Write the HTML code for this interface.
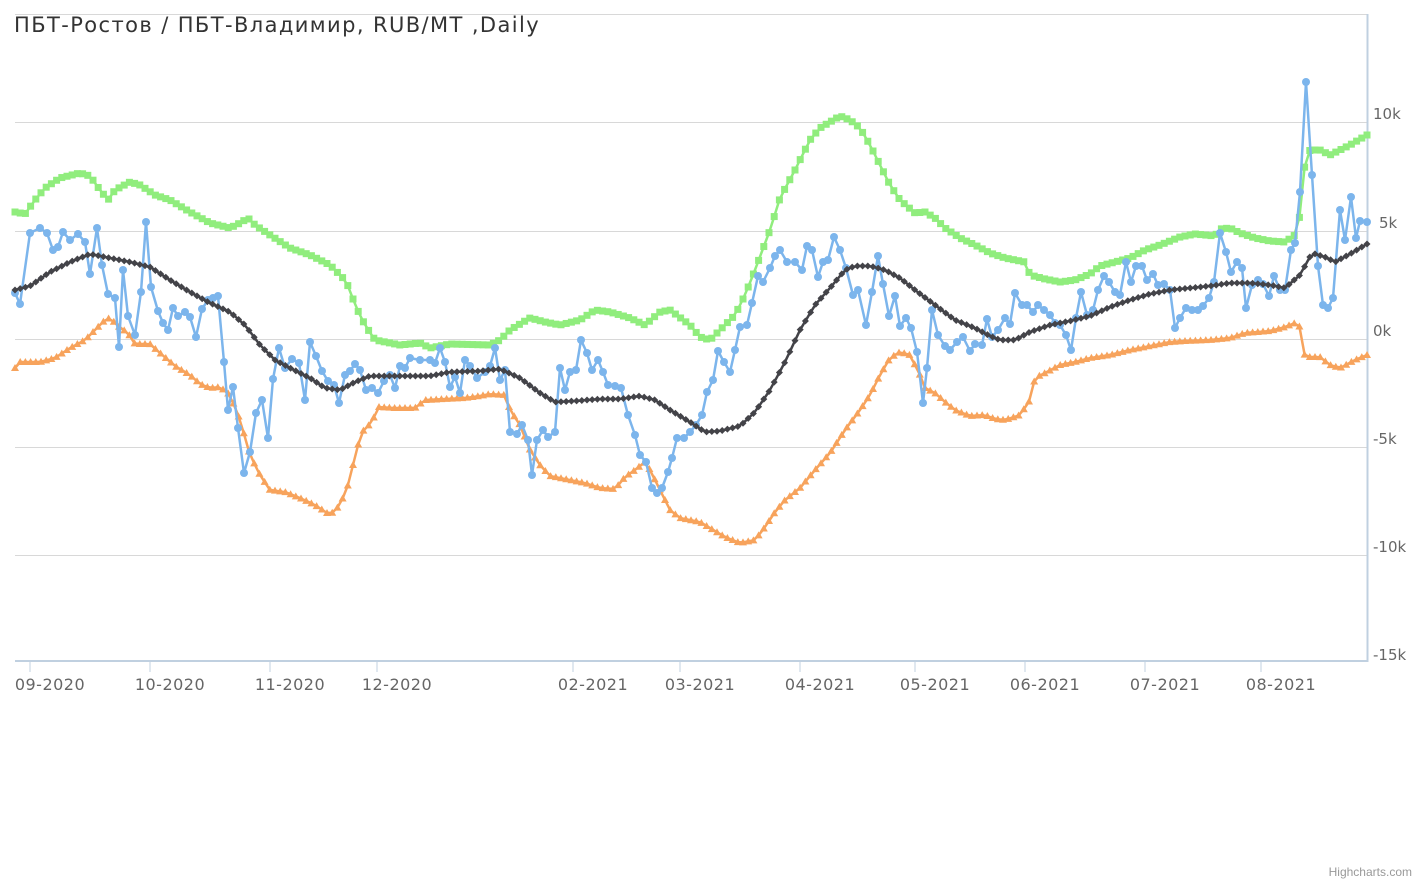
<!DOCTYPE html>
<html><head><meta charset="utf-8"><style>
body{margin:0;background:#fff;width:1427px;height:883px;overflow:hidden;font-family:"Liberation Sans","DejaVu Sans",sans-serif}
svg{position:absolute;left:0;top:0}
</style></head><body>
<svg id="c" width="1427" height="883" xmlns="http://www.w3.org/2000/svg">
<text x="14" y="32" font-size="21" letter-spacing="1.4" fill="#333" font-family="DejaVu Sans, sans-serif">ПБТ-Ростов / ПБТ-Владимир, RUB/MT ,Daily</text>
<g stroke="#d8d8d8" stroke-width="1">
<line x1="15" x2="1367" y1="14.5" y2="14.5"/><line x1="15" x2="1367" y1="122.5" y2="122.5"/><line x1="15" x2="1367" y1="231.5" y2="231.5"/><line x1="15" x2="1367" y1="339.5" y2="339.5"/><line x1="15" x2="1367" y1="447.5" y2="447.5"/><line x1="15" x2="1367" y1="555.5" y2="555.5"/>
</g>
<line x1="1367.5" x2="1367.5" y1="14" y2="662" stroke="#c0d0e0" stroke-width="2"/>
<line x1="15" x2="1368" y1="661" y2="661" stroke="#c0d0e0" stroke-width="2"/>
<g fill="#666" font-size="15" font-family="DejaVu Sans, sans-serif">
<text x="1373" y="119">10k</text><text x="1379" y="228">5k</text><text x="1373" y="336">0k</text><text x="1373" y="444">-5k</text><text x="1373" y="552">-10k</text><text x="1373" y="660">-15k</text>
</g>
<g id="xt" fill="#666" font-size="16" letter-spacing="0.5" font-family="DejaVu Sans, sans-serif" text-anchor="middle"></g>
<g id="s"></g>
<text x="1412" y="876" font-size="12" fill="#999" text-anchor="end">Highcharts.com</text>
</svg>
<script>
var NS="http://www.w3.org/2000/svg";
function el(t,a,p){var e=document.createElementNS(NS,t);for(var k in a)e.setAttribute(k,a[k]);(p||document.getElementById('s')).appendChild(e);return e;}
var ticks=[[30,"09-2020"],[150,"10-2020"],[270,"11-2020"],[377,"12-2020"],[573,"02-2021"],[680,"03-2021"],[800,"04-2021"],[915,"05-2021"],[1025,"06-2021"],[1145,"07-2021"],[1261,"08-2021"]];
var xt=document.getElementById('xt');
ticks.forEach(function(t){el('line',{x1:t[0],x2:t[0],y1:662,y2:672,stroke:'#c0d0e0'},xt);var tx=el('text',{x:t[0]+20,y:690},xt);tx.textContent=t[1];});
function parse(a){var r=[];for(var i=0;i<a.length;i+=2)r.push([a[i],a[i+1]]);return r;}
function resample(p,step){var r=[];var x=p[0][0];var j=0;while(x<=p[p.length-1][0]+0.01){while(j<p.length-2&&p[j+1][0]<x)j++;var a=p[j],b=p[j+1];var t=(x-a[0])/(b[0]-a[0]);r.push([x,a[1]+(b[1]-a[1])*t]);x+=step;}return r;}
var G=parse([15,212,25,214,35,200,45,188,60,178,80,173,90,176,100,190,108,200,115,190,130,182,140,185,155,195,170,200,190,212,210,223,230,228,240,223,248,218,255,225,270,235,290,248,310,255,330,265,345,280,350,290,355,305,365,325,375,340,400,345,420,343,430,348,450,344,490,345,500,340,510,330,530,318,545,322,560,325,580,320,595,310,610,312,630,318,645,325,660,312,670,310,690,325,700,337,710,340,720,330,735,315,745,295,755,270,770,230,780,198,795,170,810,140,820,128,830,122,840,116,850,120,860,128,870,145,880,165,890,185,900,200,915,213,925,212,935,218,945,228,960,238,975,245,990,253,1005,258,1015,260,1025,262,1030,275,1045,279,1060,282,1075,280,1090,274,1100,266,1115,262,1130,258,1145,250,1160,245,1180,237,1195,234,1215,236,1220,229,1230,228,1240,233,1255,238,1270,241,1285,242,1295,235,1300,215,1305,163,1310,150,1320,150,1330,155,1340,150,1350,145,1367,135]);
var O=parse([15,368,20,362,40,362,55,358,70,348,85,340,95,330,105,320,110,318,118,326,128,333,135,344,150,344,160,353,175,366,190,375,200,384,210,388,220,387,230,395,240,420,250,455,260,475,270,490,285,492,300,498,315,505,330,515,340,505,350,480,355,455,362,432,372,422,378,407,395,408,415,408,425,400,445,399,465,398,480,396,490,394,505,395,510,410,520,425,530,450,540,465,550,476,570,480,585,483,600,488,615,489,625,477,635,470,645,462,650,470,660,490,670,510,680,518,700,522,710,528,725,537,740,543,755,540,765,527,775,512,785,500,800,488,815,470,830,453,845,430,860,410,870,395,880,375,890,358,900,352,910,355,920,375,925,388,935,393,945,402,955,410,970,416,985,415,995,419,1005,420,1020,415,1030,400,1035,378,1045,373,1060,365,1075,362,1090,358,1110,355,1130,350,1150,346,1170,342,1185,341,1210,340,1230,338,1245,333,1270,331,1285,327,1295,323,1300,327,1305,357,1320,357,1330,365,1340,368,1355,360,1367,355]);
var K=parse([15,290,30,286,50,272,70,262,90,254,110,258,130,262,150,267,170,280,190,292,210,303,230,312,245,325,260,345,275,360,290,368,310,378,325,388,340,390,355,382,370,376,390,376,410,376,430,376,450,372,480,371,500,369,520,378,540,393,555,402,575,401,600,399,620,399,640,396,655,400,670,410,690,422,705,432,720,431,740,426,755,412,770,390,785,362,800,330,815,305,830,288,845,270,855,266,870,266,885,270,900,278,915,290,935,305,955,320,975,328,990,336,1000,340,1015,340,1030,332,1050,325,1070,321,1090,316,1110,307,1130,300,1150,294,1170,290,1190,288,1210,286,1230,283,1250,283,1270,285,1285,288,1300,275,1312,253,1325,257,1335,262,1350,254,1367,244]);
var B=parse([15,293,20,304,30,233,40,228,47,233,53,250,58,247,63,232,70,240,78,234,85,242,90,274,97,228,102,265,108,294,115,298,119,347,123,270,128,316,135,335,141,292,146,222,151,287,158,311,163,323,168,330,173,308,178,316,185,312,190,317,196,337,202,309,208,300,213,298,218,296,224,362,228,410,233,387,238,428,244,473,250,452,256,413,262,400,268,438,273,379,279,348,285,368,292,359,299,363,305,400,310,342,316,356,322,371,328,381,334,385,339,403,345,375,350,371,355,364,360,370,366,390,372,388,378,393,384,381,390,375,395,388,400,366,405,368,410,358,420,360,430,360,435,363,440,348,445,362,450,387,455,377,460,393,465,360,470,366,477,378,485,372,490,366,495,348,500,380,505,370,510,432,517,434,522,425,528,440,532,475,537,440,543,430,548,437,555,432,560,368,565,390,570,372,576,370,581,340,587,353,592,370,598,360,603,372,608,385,615,386,621,388,628,415,635,435,640,455,646,462,652,488,657,493,662,488,668,472,672,458,677,438,684,438,690,432,696,425,702,415,707,392,713,380,718,351,724,362,730,372,735,350,740,327,747,325,752,303,758,276,763,282,770,268,775,256,780,250,787,262,795,262,802,270,807,246,812,250,818,277,823,262,828,260,834,237,840,250,846,268,853,295,858,290,866,325,872,292,878,256,883,284,889,316,895,296,900,326,906,318,911,328,917,352,923,403,927,368,932,310,938,335,945,346,950,350,957,342,963,337,970,351,975,344,982,345,987,319,992,337,998,330,1005,318,1010,324,1015,293,1022,305,1027,305,1033,312,1038,305,1044,310,1050,315,1055,323,1060,325,1066,335,1071,350,1076,318,1081,292,1087,315,1093,310,1098,290,1104,276,1109,282,1115,292,1120,295,1126,262,1131,282,1136,266,1142,266,1147,280,1153,274,1158,285,1164,284,1170,290,1175,328,1180,318,1186,308,1192,310,1198,310,1203,306,1209,298,1214,282,1220,233,1226,252,1231,272,1237,262,1242,268,1246,308,1252,285,1258,280,1263,284,1269,296,1274,276,1280,290,1285,290,1291,250,1295,243,1300,192,1306,82,1312,175,1318,266,1323,305,1328,308,1333,298,1340,210,1345,240,1351,197,1356,238,1360,221,1367,222]);
function line(p,c,w){el('polyline',{points:p.map(function(q){return q[0].toFixed(1)+','+q[1].toFixed(1)}).join(' '),fill:'none',stroke:c,'stroke-width':w,'stroke-linejoin':'round'});}
var g=resample(G,5.2),o=resample(O,5.2),k=resample(K,5.2);
line(g,'#90ed7d',2.5);g.forEach(function(q){el('rect',{x:q[0]-3.5,y:q[1]-3.5,width:7,height:7,fill:'#90ed7d'});});
line(o,'#f7a35c',2.5);o.forEach(function(q){el('path',{d:'M'+q[0]+','+(q[1]-4)+'l4,7h-8z',fill:'#f7a35c'});});
line(B,'#7cb5ec',2.5);B.forEach(function(q){el('circle',{cx:q[0],cy:q[1],r:4,fill:'#7cb5ec'});});
line(k,'#434348',2.5);k.forEach(function(q){el('path',{d:'M'+q[0]+','+(q[1]-3.5)+'l3.5,3.5l-3.5,3.5l-3.5,-3.5z',fill:'#434348'});});
</script>
</body></html>
